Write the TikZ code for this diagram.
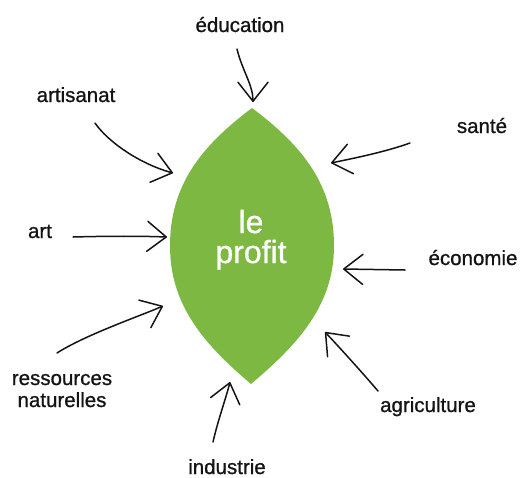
\documentclass[tikz,border=0pt]{standalone}
\usepackage{fontspec}
\setmainfont{Liberation Sans}[BoldFont={Liberation Sans},BoldFeatures={FakeBold=0.9}]
\usetikzlibrary{arrows.meta}
\definecolor{leafgreen}{RGB}{125,184,67}
\definecolor{ink}{RGB}{20,20,20}
\begin{document}
\begin{tikzpicture}[x=1pt,y=-1pt,
  lbl/.style={anchor=base,text=ink,font=\fontsize{20.5}{22}\selectfont\bfseries,inner sep=0pt},
  conn/.style={draw=ink,line width=1.5pt,line cap=round,
    -{Straight Barb[length=19pt,width=30pt,line width=1.5pt,round]}},
  leaf/.style={fill=leafgreen}]
\useasboundingbox (0,0) rectangle (529,477);
% leaf
\fill[leaf] (252,108) .. controls (200,147) and (170,186) .. (170,246)
  .. controls (170,306) and (205,345) .. (251,384)
  .. controls (297,345) and (334,306) .. (334,246)
  .. controls (334,186) and (304,147) .. (252,108) -- cycle;
\node[text=white,font=\fontsize{32}{30}\selectfont\bfseries,align=center,anchor=base,inner sep=0pt] (profit) at (251,263) {le\\profit};
% labels
\node[lbl] (edu) at (240,32) {éducation};
\node[lbl] (arti) at (76,102) {artisanat};
\node[lbl] (sante) at (482,133) {santé};
\node[lbl] (art) at (40,238) {art};
\node[lbl] (eco) at (473,265) {économie};
\node[lbl,align=center] (res) at (62,407) {ressources\\naturelles};
\node[lbl] (agri) at (428,412) {agriculture};
\node[lbl] (ind) at (227,474) {industrie};
% connector ends
\coordinate (eduS) at (237,49);   \coordinate (eduE) at (253,102);
\coordinate (artiS) at (95,123);  \coordinate (artiE) at (173,173);
\coordinate (santeS) at (410,143);\coordinate (santeE) at (331,163);
\coordinate (artS) at (73,237);   \coordinate (artE) at (167,237);
\coordinate (ecoS) at (405,270);  \coordinate (ecoE) at (343,269);
\coordinate (resS) at (57,353);   \coordinate (resE) at (163,306);
\coordinate (agriS) at (378,391); \coordinate (agriE) at (325,332);
\coordinate (indS) at (213,442);  \coordinate (indE) at (230,382);
% connectors
\draw[conn] (eduS) .. controls (242,70) and (253,85) .. (eduE);
\draw[conn] (artiS) .. controls (108,142) and (140,164) .. (artiE);
\draw[conn] (santeS) .. controls (385,152) and (355,158) .. (santeE);
\draw[conn] (artS) .. controls (110,236) and (140,236) .. (artE);
\draw[conn] (ecoS) -- (ecoE);
\draw[conn] (resS) .. controls (85,335) and (140,316) .. (resE);
\draw[conn] (agriS) .. controls (360,370) and (340,348) .. (agriE);
\draw[conn] (indS) .. controls (218,420) and (226,398) .. (indE);
\end{tikzpicture}
\end{document}
